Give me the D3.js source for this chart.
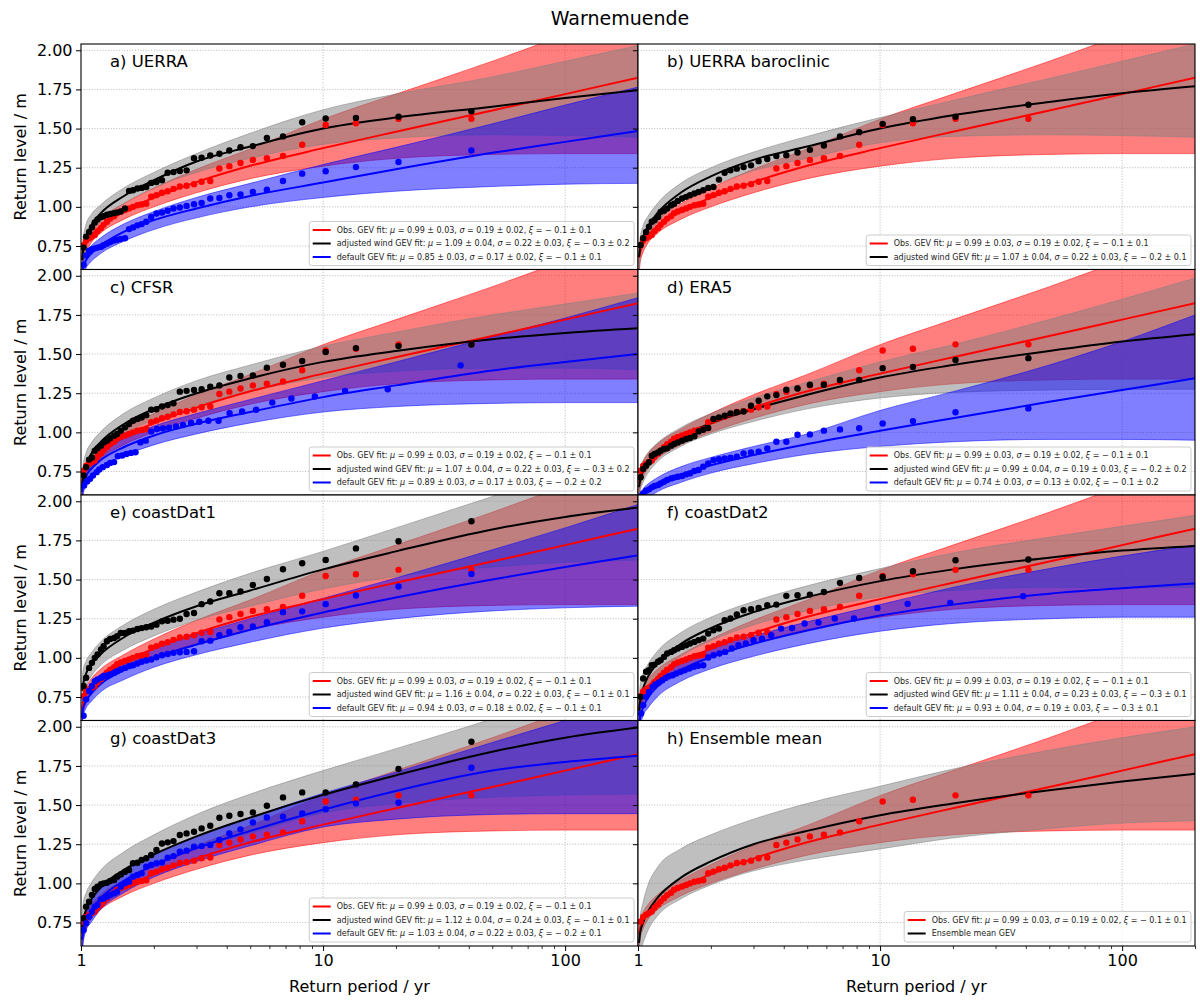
<!DOCTYPE html>
<html>
<head>
<meta charset="utf-8">
<script src="https://cdn.jsdelivr.net/npm/d3@7"></script>
<style>
  body { margin: 0; background: #fff; }
  svg { font-family: "DejaVu Sans", sans-serif; }
</style>
</head>
<body>
<svg id="chart" width="1200" height="1001"></svg>
<script>
var periodGrid = [1.01, 1.02, 1.05, 1.1, 1.2, 1.5, 2, 3, 5, 10, 20, 50, 100, 200];

// empirical return periods of the ranked annual maxima
var periods41 = [41, 20.5, 13.67, 10.25, 8.2, 6.83, 5.86, 5.13, 4.56, 4.1, 3.73, 3.42, 3.15, 2.93, 2.73, 2.56, 2.41, 2.28, 2.16, 2.05, 1.95, 1.86, 1.78, 1.71, 1.64, 1.58, 1.52, 1.46, 1.41, 1.37, 1.32, 1.28, 1.24, 1.21, 1.17, 1.14, 1.11, 1.08, 1.05, 1.025];
var periods39 = [39, 19.5, 13, 9.75, 7.8, 6.5, 5.57, 4.88, 4.33, 3.9, 3.55, 3.25, 3, 2.79, 2.6, 2.44, 2.29, 2.17, 2.05, 1.95, 1.86, 1.77, 1.7, 1.63, 1.56, 1.5, 1.44, 1.39, 1.34, 1.3, 1.26, 1.22, 1.18, 1.15, 1.11, 1.08, 1.05, 1.03];
var periods37 = [37, 18.5, 12.33, 9.25, 7.4, 6.17, 5.29, 4.63, 4.11, 3.7, 3.36, 3.08, 2.85, 2.64, 2.47, 2.31, 2.18, 2.06, 1.95, 1.85, 1.76, 1.68, 1.61, 1.54, 1.48, 1.42, 1.37, 1.32, 1.28, 1.23, 1.19, 1.16, 1.12, 1.09, 1.06, 1.03];

// observations (same in every panel)
var obsLine = [0.676, 0.711, 0.766, 0.816, 0.876, 0.972, 1.058, 1.158, 1.262, 1.375, 1.48, 1.615, 1.72, 1.825];
var obsLo   = [0.56, 0.64, 0.71, 0.77, 0.83, 0.92, 1.00, 1.09, 1.18, 1.26, 1.31, 1.335, 1.34, 1.34];
var obsHi   = [0.72, 0.77, 0.815, 0.865, 0.925, 1.02, 1.12, 1.24, 1.37, 1.56, 1.72, 1.93, 2.10, 2.28];
var obsPts  = [1.562, 1.562, 1.534, 1.523, 1.397, 1.325, 1.31, 1.30, 1.28, 1.26, 1.245, 1.165, 1.16, 1.145, 1.135, 1.13, 1.115, 1.10, 1.09, 1.075, 1.065, 1.02, 1.015, 1.01, 1.00, 0.99, 0.98, 0.97, 0.96, 0.94, 0.925, 0.905, 0.885, 0.865, 0.845, 0.82, 0.81, 0.80, 0.785, 0.755];
var obsPar  = [0.99, 0.03, 0.19, 0.02, -0.1, 0.1];

// a) UERRA
var aAdj   = [0.66, 0.72, 0.80, 0.88, 0.955, 1.068, 1.17, 1.29, 1.385, 1.50, 1.57, 1.64, 1.695, 1.745];
var aAdjLo = [0.55, 0.62, 0.72, 0.82, 0.90, 1.02, 1.12, 1.22, 1.31, 1.40, 1.44, 1.46, 1.455, 1.445];
var aAdjHi = [0.74, 0.80, 0.89, 0.95, 1.01, 1.12, 1.22, 1.34, 1.47, 1.62, 1.72, 1.83, 1.93, 2.03];
var aAdjPts = [1.61, 1.576, 1.568, 1.564, 1.54, 1.45, 1.44, 1.388, 1.381, 1.36, 1.339, 1.328, 1.314, 1.311, 1.233, 1.229, 1.222, 1.218, 1.17, 1.159, 1.153, 1.127, 1.121, 1.117, 1.106, 1.102, 0.99, 0.97, 0.965, 0.96, 0.955, 0.95, 0.94, 0.935, 0.92, 0.90, 0.87, 0.84, 0.81, 0.74];
var aAdjPar = [1.09, 0.04, 0.22, 0.03, -0.3, 0.2];
var aDef   = [0.58, 0.61, 0.66, 0.70, 0.75, 0.84, 0.915, 0.99, 1.07, 1.155, 1.24, 1.345, 1.415, 1.485];
var aDefLo = [0.50, 0.55, 0.61, 0.65, 0.70, 0.78, 0.855, 0.93, 1.00, 1.06, 1.10, 1.13, 1.145, 1.15];
var aDefHi = [0.62, 0.66, 0.71, 0.75, 0.80, 0.89, 0.97, 1.06, 1.15, 1.27, 1.38, 1.53, 1.65, 1.765];
var aDefPts = [1.36, 1.286, 1.254, 1.227, 1.212, 1.165, 1.11, 1.095, 1.08, 1.074, 1.057, 1.053, 1.025, 1.017, 1.006, 0.996, 0.99, 0.975, 0.964, 0.958, 0.936, 0.905, 0.89, 0.882, 0.869, 0.858, 0.80, 0.795, 0.79, 0.785, 0.775, 0.765, 0.755, 0.745, 0.74, 0.735, 0.73, 0.72, 0.69, 0.63];
var aDefPar = [0.85, 0.03, 0.17, 0.02, -0.1, 0.1];

// b) UERRA baroclinic
var bAdj   = [0.68, 0.735, 0.81, 0.875, 0.958, 1.09, 1.195, 1.30, 1.385, 1.50, 1.585, 1.67, 1.725, 1.77];
var bAdjLo = [0.58, 0.66, 0.75, 0.82, 0.90, 1.03, 1.13, 1.23, 1.31, 1.41, 1.45, 1.46, 1.455, 1.445];
var bAdjHi = [0.74, 0.80, 0.88, 0.94, 1.02, 1.15, 1.25, 1.35, 1.45, 1.57, 1.68, 1.82, 1.93, 2.04];
var bAdjPts = [1.652, 1.576, 1.56, 1.53, 1.477, 1.45, 1.392, 1.364, 1.347, 1.33, 1.324, 1.305, 1.292, 1.265, 1.254, 1.244, 1.233, 1.218, 1.174, 1.127, 1.121, 1.106, 1.095, 1.085, 1.074, 1.064, 1.053, 1.038, 1.02, 1.01, 0.99, 0.975, 0.968, 0.936, 0.915, 0.905, 0.873, 0.84, 0.80, 0.756];
var bAdjPar = [1.07, 0.04, 0.22, 0.03, -0.2, 0.1];

// c) CFSR
var cAdj   = [0.64, 0.70, 0.78, 0.86, 0.935, 1.052, 1.15, 1.25, 1.345, 1.45, 1.52, 1.595, 1.635, 1.665];
var cAdjLo = [0.54, 0.62, 0.71, 0.80, 0.88, 0.99, 1.08, 1.17, 1.26, 1.35, 1.39, 1.41, 1.41, 1.40];
var cAdjHi = [0.73, 0.79, 0.87, 0.93, 1.00, 1.12, 1.22, 1.33, 1.43, 1.55, 1.64, 1.75, 1.82, 1.89];
var cAdjPts = [1.561, 1.551, 1.538, 1.513, 1.456, 1.432, 1.413, 1.364, 1.36, 1.35, 1.30, 1.292, 1.275, 1.271, 1.265, 1.26, 1.186, 1.174, 1.165, 1.148, 1.144, 1.11, 1.095, 1.085, 1.074, 1.053, 1.032, 1.01, 0.99, 0.979, 0.962, 0.947, 0.936, 0.915, 0.898, 0.883, 0.84, 0.826, 0.778, 0.725];
var cAdjPar = [1.07, 0.04, 0.22, 0.03, -0.3, 0.2];
var cDef   = [0.62, 0.66, 0.72, 0.765, 0.82, 0.905, 0.98, 1.055, 1.13, 1.225, 1.30, 1.395, 1.45, 1.50];
var cDefLo = [0.55, 0.60, 0.66, 0.71, 0.77, 0.85, 0.92, 0.99, 1.06, 1.13, 1.165, 1.185, 1.19, 1.19];
var cDefHi = [0.68, 0.72, 0.78, 0.82, 0.87, 0.96, 1.04, 1.12, 1.21, 1.33, 1.45, 1.61, 1.73, 1.86];
var cDefPts = [1.428, 1.275, 1.265, 1.229, 1.216, 1.19, 1.144, 1.133, 1.123, 1.074, 1.074, 1.068, 1.06, 1.047, 1.038, 1.03, 1.025, 1.021, 1.006, 0.947, 0.936, 0.873, 0.869, 0.862, 0.852, 0.847, 0.81, 0.805, 0.792, 0.778, 0.763, 0.746, 0.725, 0.704, 0.686, 0.66];
var cDefPar = [0.89, 0.03, 0.17, 0.03, -0.2, 0.2];

// d) ERA5
var dAdj   = [0.65, 0.69, 0.753, 0.808, 0.872, 0.972, 1.057, 1.147, 1.24, 1.35, 1.43, 1.52, 1.58, 1.627];
var dAdjLo = [0.55, 0.62, 0.68, 0.74, 0.81, 0.91, 0.99, 1.07, 1.15, 1.22, 1.255, 1.27, 1.275, 1.275];
var dAdjHi = [0.71, 0.77, 0.82, 0.87, 0.93, 1.03, 1.12, 1.22, 1.32, 1.45, 1.56, 1.72, 1.85, 1.985];
var dAdjPts = [1.474, 1.462, 1.417, 1.41, 1.334, 1.334, 1.304, 1.304, 1.28, 1.272, 1.238, 1.23, 1.202, 1.17, 1.134, 1.128, 1.121, 1.106, 1.096, 1.085, 1.028, 1.017, 1.006, 0.975, 0.964, 0.958, 0.947, 0.936, 0.926, 0.915, 0.898, 0.894, 0.883, 0.872, 0.862, 0.851, 0.809, 0.787, 0.766, 0.713];
var dAdjPar = [0.99, 0.04, 0.19, 0.03, -0.2, 0.2];
var dDef   = [0.53, 0.555, 0.59, 0.625, 0.665, 0.73, 0.79, 0.855, 0.925, 1.01, 1.09, 1.195, 1.27, 1.345];
var dDefLo = [0.45, 0.50, 0.545, 0.58, 0.62, 0.68, 0.74, 0.80, 0.86, 0.91, 0.94, 0.955, 0.955, 0.95];
var dDefHi = [0.57, 0.60, 0.64, 0.67, 0.71, 0.78, 0.84, 0.91, 0.99, 1.14, 1.26, 1.43, 1.58, 1.75];
var dDefPts = [1.153, 1.128, 1.072, 1.057, 1.026, 1.019, 1.011, 0.987, 0.985, 0.94, 0.94, 0.898, 0.877, 0.872, 0.866, 0.845, 0.838, 0.834, 0.828, 0.823, 0.802, 0.781, 0.76, 0.753, 0.738, 0.732, 0.721, 0.717, 0.711, 0.706, 0.696, 0.685, 0.674, 0.664, 0.657, 0.649, 0.636, 0.628, 0.61, 0.59];
var dDefPar = [0.74, 0.03, 0.13, 0.02, -0.1, 0.2];

// e) coastDat1
var eAdj   = [0.79, 0.83, 0.90, 0.955, 1.02, 1.13, 1.225, 1.33, 1.43, 1.565, 1.68, 1.82, 1.90, 1.96];
var eAdjLo = [0.66, 0.74, 0.82, 0.88, 0.95, 1.05, 1.14, 1.24, 1.33, 1.44, 1.52, 1.58, 1.61, 1.625];
var eAdjHi = [0.86, 0.92, 0.98, 1.03, 1.10, 1.21, 1.31, 1.42, 1.54, 1.68, 1.83, 2.03, 2.18, 2.32];
var eAdjPts = [1.872, 1.745, 1.699, 1.625, 1.604, 1.566, 1.504, 1.466, 1.424, 1.413, 1.413, 1.36, 1.343, 1.286, 1.28, 1.25, 1.244, 1.237, 1.233, 1.212, 1.20, 1.195, 1.19, 1.184, 1.174, 1.17, 1.159, 1.159, 1.138, 1.127, 1.121, 1.106, 1.074, 1.053, 1.021, 1.00, 0.968, 0.936, 0.873, 0.82];
var eAdjPar = [1.16, 0.04, 0.22, 0.03, -0.1, 0.1];
var eDef   = [0.64, 0.675, 0.725, 0.77, 0.83, 0.92, 1.00, 1.085, 1.18, 1.29, 1.385, 1.50, 1.58, 1.655];
var eDefLo = [0.55, 0.62, 0.68, 0.72, 0.78, 0.86, 0.94, 1.02, 1.10, 1.19, 1.25, 1.30, 1.32, 1.33];
var eDefHi = [0.69, 0.74, 0.79, 0.83, 0.89, 0.98, 1.06, 1.15, 1.25, 1.38, 1.51, 1.69, 1.83, 1.98];
var eDefPts = [1.536, 1.456, 1.398, 1.343, 1.297, 1.292, 1.227, 1.20, 1.195, 1.165, 1.144, 1.11, 1.106, 1.042, 1.038, 1.036, 1.032, 1.025, 1.017, 1.004, 0.99, 0.983, 0.975, 0.964, 0.953, 0.947, 0.936, 0.926, 0.915, 0.905, 0.894, 0.888, 0.883, 0.873, 0.862, 0.851, 0.82, 0.788, 0.735, 0.63];
var eDefPar = [0.94, 0.03, 0.18, 0.02, -0.1, 0.1];

// f) coastDat2
var fAdj   = [0.66, 0.72, 0.805, 0.88, 0.963, 1.088, 1.19, 1.292, 1.388, 1.49, 1.565, 1.64, 1.685, 1.715];
var fAdjLo = [0.55, 0.64, 0.74, 0.81, 0.89, 1.01, 1.11, 1.21, 1.30, 1.39, 1.43, 1.45, 1.45, 1.45];
var fAdjHi = [0.74, 0.82, 0.90, 0.96, 1.04, 1.16, 1.26, 1.36, 1.46, 1.57, 1.67, 1.77, 1.84, 1.91];
var fAdjPts = [1.628, 1.623, 1.553, 1.517, 1.51, 1.479, 1.421, 1.404, 1.40, 1.396, 1.34, 1.336, 1.319, 1.311, 1.304, 1.277, 1.251, 1.24, 1.187, 1.176, 1.155, 1.123, 1.113, 1.102, 1.092, 1.081, 1.07, 1.06, 1.049, 1.038, 1.028, 1.006, 0.985, 0.975, 0.957, 0.953, 0.921, 0.911, 0.868, 0.751];
var fAdjPar = [1.11, 0.04, 0.23, 0.03, -0.3, 0.1];
var fDef   = [0.57, 0.615, 0.685, 0.745, 0.815, 0.92, 1.005, 1.09, 1.175, 1.27, 1.34, 1.41, 1.445, 1.475];
var fDefLo = [0.47, 0.55, 0.63, 0.68, 0.75, 0.85, 0.93, 1.01, 1.09, 1.17, 1.22, 1.25, 1.26, 1.26];
var fDefHi = [0.63, 0.70, 0.77, 0.81, 0.87, 0.97, 1.06, 1.14, 1.23, 1.34, 1.45, 1.57, 1.65, 1.72];
var fDefPts = [1.394, 1.351, 1.345, 1.319, 1.251, 1.251, 1.226, 1.219, 1.191, 1.187, 1.145, 1.123, 1.113, 1.092, 1.081, 1.06, 1.038, 1.028, 1.017, 1.002, 0.953, 0.949, 0.943, 0.932, 0.921, 0.911, 0.90, 0.889, 0.883, 0.872, 0.857, 0.843, 0.83, 0.815, 0.783, 0.751, 0.698, 0.645];
var fDefPar = [0.93, 0.04, 0.19, 0.03, -0.3, 0.1];

// g) coastDat3
var gAdj   = [0.72, 0.765, 0.83, 0.895, 0.97, 1.085, 1.185, 1.30, 1.42, 1.565, 1.69, 1.84, 1.93, 1.995];
var gAdjLo = [0.56, 0.66, 0.75, 0.82, 0.90, 1.01, 1.11, 1.22, 1.32, 1.45, 1.51, 1.55, 1.565, 1.57];
var gAdjHi = [0.80, 0.87, 0.94, 1.00, 1.08, 1.20, 1.31, 1.44, 1.57, 1.72, 1.86, 2.05, 2.20, 2.35];
var gAdjPts = [1.904, 1.73, 1.632, 1.581, 1.581, 1.549, 1.496, 1.453, 1.443, 1.432, 1.419, 1.368, 1.351, 1.33, 1.319, 1.309, 1.27, 1.262, 1.255, 1.213, 1.181, 1.16, 1.149, 1.132, 1.128, 1.085, 1.074, 1.057, 1.043, 1.021, 1.015, 1.004, 1.00, 0.994, 0.979, 0.964, 0.926, 0.883, 0.851, 0.777];
var gAdjPar = [1.12, 0.04, 0.24, 0.03, -0.1, 0.1];
var gDef   = [0.64, 0.685, 0.76, 0.825, 0.90, 1.015, 1.115, 1.225, 1.335, 1.47, 1.59, 1.72, 1.775, 1.815];
var gDefLo = [0.52, 0.61, 0.70, 0.75, 0.83, 0.94, 1.04, 1.14, 1.24, 1.36, 1.41, 1.44, 1.445, 1.445];
var gDefHi = [0.70, 0.76, 0.84, 0.89, 0.96, 1.08, 1.18, 1.30, 1.42, 1.575, 1.71, 1.90, 2.04, 2.18];
var gDefPts = [1.738, 1.515, 1.511, 1.474, 1.447, 1.426, 1.421, 1.389, 1.345, 1.319, 1.277, 1.245, 1.238, 1.234, 1.209, 1.202, 1.174, 1.164, 1.134, 1.128, 1.117, 1.106, 1.064, 1.053, 1.043, 1.011, 1.00, 0.979, 0.947, 0.936, 0.926, 0.915, 0.904, 0.898, 0.862, 0.851, 0.819, 0.787, 0.745, 0.702];
var gDefPar = [1.03, 0.04, 0.22, 0.03, -0.2, 0.1];

// h) Ensemble mean
var hEns   = [0.62, 0.68, 0.75, 0.82, 0.905, 1.035, 1.14, 1.25, 1.335, 1.435, 1.51, 1.595, 1.65, 1.70];
var hEnsLo = [0.50, 0.55, 0.62, 0.70, 0.79, 0.90, 0.99, 1.08, 1.15, 1.22, 1.29, 1.35, 1.385, 1.40];
var hEnsHi = [0.70, 0.78, 0.88, 0.99, 1.10, 1.22, 1.31, 1.41, 1.51, 1.62, 1.73, 1.85, 1.93, 2.00];

var yTicks = [0.75, 1.00, 1.25, 1.50, 1.75, 2.00];
var xMajor = [1, 10, 100];
var xMinor = [2, 3, 4, 5, 6, 7, 8, 9, 20, 30, 40, 50, 60, 70, 80, 90, 200];

function obs() {
  return {color: "red", line: obsLine, lo: obsLo, hi: obsHi, t: periods41, pts: obsPts, name: "Obs. GEV fit: ", par: obsPar};
}
function adj(line, lo, hi, pts, par) {
  return {color: "black", line: line, lo: lo, hi: hi, t: periods41, pts: pts, name: "adjusted wind GEV fit: ", par: par};
}
function def(line, lo, hi, t, pts, par) {
  return {color: "blue", line: line, lo: lo, hi: hi, t: t, pts: pts, name: "default GEV fit: ", par: par};
}

var panels = [
  {label: "a) UERRA", row: 0, col: 0, series: [obs(), adj(aAdj, aAdjLo, aAdjHi, aAdjPts, aAdjPar), def(aDef, aDefLo, aDefHi, periods41, aDefPts, aDefPar)]},
  {label: "b) UERRA baroclinic", row: 0, col: 1, series: [obs(), adj(bAdj, bAdjLo, bAdjHi, bAdjPts, bAdjPar)]},
  {label: "c) CFSR", row: 1, col: 0, series: [obs(), adj(cAdj, cAdjLo, cAdjHi, cAdjPts, cAdjPar), def(cDef, cDefLo, cDefHi, periods37, cDefPts, cDefPar)]},
  {label: "d) ERA5", row: 1, col: 1, series: [obs(), adj(dAdj, dAdjLo, dAdjHi, dAdjPts, dAdjPar), def(dDef, dDefLo, dDefHi, periods41, dDefPts, dDefPar)]},
  {label: "e) coastDat1", row: 2, col: 0, series: [obs(), adj(eAdj, eAdjLo, eAdjHi, eAdjPts, eAdjPar), def(eDef, eDefLo, eDefHi, periods41, eDefPts, eDefPar)]},
  {label: "f) coastDat2", row: 2, col: 1, series: [obs(), adj(fAdj, fAdjLo, fAdjHi, fAdjPts, fAdjPar), def(fDef, fDefLo, fDefHi, periods39, fDefPts, fDefPar)]},
  {label: "g) coastDat3", row: 3, col: 0, series: [obs(), adj(gAdj, gAdjLo, gAdjHi, gAdjPts, gAdjPar), def(gDef, gDefLo, gDefHi, periods41, gDefPts, gDefPar)]},
  {label: "h) Ensemble mean", row: 3, col: 1, series: [obs(), {color: "black", line: hEns, lo: hEnsLo, hi: hEnsHi, t: null, pts: null, name: "Ensemble mean GEV", par: null}]}
];

var bandFill = {red: "red", black: "gray", blue: "blue"};

var colX = [[81, 638], [638, 1195]];
var top0 = 44, rowH = 225.5;

var svg = d3.select("#chart");
svg.append("rect").attr("width", 1200).attr("height", 1001).attr("fill", "white");
var defs = svg.append("defs");

function fmtSigned(v) {
  return v < 0 ? "\u2212 " + Math.abs(v).toFixed(1) : v.toFixed(1);
}

function addLabel(text, s) {
  text.append("tspan").text(s.name);
  if (!s.par) return;
  var p = s.par;
  text.append("tspan").attr("font-style", "italic").text("\u03bc");
  text.append("tspan").text(" = " + p[0].toFixed(2) + " \u00b1 " + p[1].toFixed(2) + ", ");
  text.append("tspan").attr("font-style", "italic").text("\u03c3");
  text.append("tspan").text(" = " + p[2].toFixed(2) + " \u00b1 " + p[3].toFixed(2) + ", ");
  text.append("tspan").attr("font-style", "italic").text("\u03be");
  text.append("tspan").text(" = " + fmtSigned(p[4]) + " \u00b1 " + p[5].toFixed(1));
}

panels.forEach(function(p, i) {
  var x0 = colX[p.col][0], x1 = colX[p.col][1];
  var y0 = top0 + p.row * rowH, y1 = y0 + rowH;

  var x = d3.scaleLog().domain([1, 200]).range([x0, x1]);
  var y = d3.scaleLinear().domain([0.6, 2.04]).range([y1, y0]);

  defs.append("clipPath").attr("id", "clip" + i)
    .append("rect").attr("x", x0).attr("y", y0).attr("width", x1 - x0).attr("height", y1 - y0);

  var g = svg.append("g");
  g.append("rect").attr("x", x0).attr("y", y0).attr("width", x1 - x0).attr("height", y1 - y0).attr("fill", "white");

  var plot = g.append("g").attr("clip-path", "url(#clip" + i + ")");

  // grid
  plot.selectAll(".gx").data([10, 100]).enter().append("line")
    .attr("x1", d => x(d)).attr("x2", d => x(d)).attr("y1", y0).attr("y2", y1)
    .attr("stroke", "#b0b0b0").attr("stroke-width", 0.9).attr("stroke-dasharray", "1,1.7");
  plot.selectAll(".gy").data(yTicks).enter().append("line")
    .attr("x1", x0).attr("x2", x1).attr("y1", d => y(d)).attr("y2", d => y(d))
    .attr("stroke", "#b0b0b0").attr("stroke-width", 0.9).attr("stroke-dasharray", "1,1.7");

  var area = d3.area().x(d => x(d.t)).y0(d => y(d.lo)).y1(d => y(d.hi)).curve(d3.curveMonotoneX);
  var line = d3.line().x(d => x(d.t)).y(d => y(d.v)).curve(d3.curveMonotoneX);

  function rows(s) {
    return periodGrid.map((t, k) => ({t: t, v: s.line[k], lo: s.lo[k], hi: s.hi[k]}));
  }

  // confidence bands
  p.series.forEach(function(s) {
    plot.append("path").datum(rows(s)).attr("d", area)
      .attr("fill", bandFill[s.color]).attr("fill-opacity", 0.5)
      .attr("stroke", bandFill[s.color]).attr("stroke-opacity", 0.5).attr("stroke-width", 1);
  });
  // fitted curves
  p.series.forEach(function(s) {
    plot.append("path").datum(rows(s)).attr("d", line)
      .attr("fill", "none").attr("stroke", s.color).attr("stroke-width", 2);
  });
  // empirical points
  p.series.forEach(function(s) {
    if (!s.pts) return;
    plot.selectAll(null).data(s.pts).enter().append("circle")
      .attr("cx", (d, k) => x(s.t[k])).attr("cy", d => y(d)).attr("r", 3.2)
      .attr("fill", s.color);
  });

  // panel label
  g.append("text").attr("x", x0 + 29).attr("y", y0 + 23)
    .attr("font-size", 16.5).attr("fill", "black").text(p.label);

  // legend
  var fs = 8, step = 13.5, pad = 3.5, handle = 18, gap = 6;
  var lg = g.append("g");
  var box = lg.append("rect").attr("rx", 2.5).attr("ry", 2.5)
    .attr("fill", "white").attr("fill-opacity", 0.8).attr("stroke", "#cccccc").attr("stroke-width", 1);
  var maxW = 0;
  p.series.forEach(function(s, j) {
    var cy = pad + 5 + j * step;
    lg.append("line").attr("x1", pad).attr("x2", pad + handle).attr("y1", cy).attr("y2", cy)
      .attr("stroke", s.color).attr("stroke-width", 2);
    var t = lg.append("text").attr("x", pad + handle + gap).attr("y", cy).attr("dy", "0.35em")
      .attr("font-size", fs).attr("fill", "#222");
    addLabel(t, s);
    maxW = Math.max(maxW, t.node().getComputedTextLength());
  });
  var bw = pad + handle + gap + maxW + pad + 1;
  var bh = pad * 2 + 3 + (p.series.length - 1) * step + 7;
  box.attr("width", bw).attr("height", bh);
  lg.attr("transform", "translate(" + (x1 - 4 - bw) + "," + (y1 - 4 - bh) + ")");

  // y axis
  var yAxis = d3.axisLeft(y).tickValues(yTicks).tickSize(5).tickPadding(3.5)
    .tickFormat(p.col === 0 ? d3.format(".2f") : () => "");
  var ya = g.append("g").attr("transform", "translate(" + x0 + ",0)").call(yAxis);
  ya.select(".domain").remove();
  ya.attr("font-size", 16).attr("font-family", "DejaVu Sans, sans-serif");

  // x axis on the bottom row
  if (p.row === 3) {
    var xa = g.append("g").attr("transform", "translate(0," + y1 + ")")
      .call(d3.axisBottom(x).tickValues(xMajor).tickSize(5).tickPadding(3.5).tickFormat(d3.format("d")));
    xa.select(".domain").remove();
    xa.attr("font-size", 16).attr("font-family", "DejaVu Sans, sans-serif");
    var xm = g.append("g").attr("transform", "translate(0," + y1 + ")")
      .call(d3.axisBottom(x).tickValues(xMinor).tickSize(3).tickFormat(() => ""));
    xm.select(".domain").remove();
    xm.selectAll("line").attr("stroke-width", 0.8);

    g.append("text").attr("x", (x0 + x1) / 2).attr("y", 992).attr("text-anchor", "middle")
      .attr("font-size", 16).text("Return period / yr");
  }

  if (p.col === 0) {
    g.append("text").attr("transform", "translate(26," + ((y0 + y1) / 2) + ") rotate(-90)")
      .attr("text-anchor", "middle").attr("font-size", 16).text("Return level / m");
  }

  // frame
  g.append("rect").attr("x", x0).attr("y", y0).attr("width", x1 - x0).attr("height", y1 - y0)
    .attr("fill", "none").attr("stroke", "black").attr("stroke-width", 1.1);
});

svg.append("text").attr("x", 620).attr("y", 25).attr("text-anchor", "middle")
  .attr("font-size", 19).text("Warnemuende");
</script>
</body>
</html>
